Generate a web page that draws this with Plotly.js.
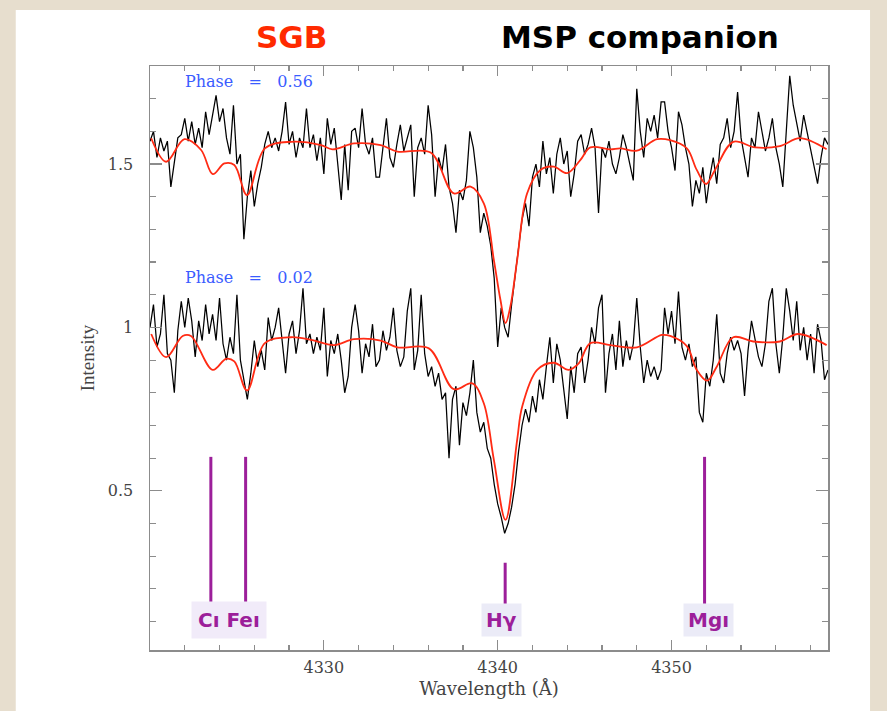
<!DOCTYPE html>
<html>
<head>
<meta charset="utf-8">
<script src="https://cdn.plot.ly/plotly-3.0.1.min.js"></script>
<style>
  html, body { margin: 0; padding: 0; background: #e7dece; }
  #chart { width: 887px; height: 711px; }
</style>
</head>
<body>
<div id="chart"></div>
<script>
// Wavelength grid of the observed spectra (Å)
const wavelength = [
4320.0,4320.2,4320.4,4320.6,4320.8,4321.0,4321.2,4321.4,4321.6,4321.8,
4322.0,4322.2,4322.4,4322.6,4322.8,4323.0,4323.2,4323.4,4323.6,4323.8,
4324.0,4324.2,4324.4,4324.6,4324.8,4325.0,4325.2,4325.4,4325.6,4325.8,
4326.0,4326.2,4326.4,4326.6,4326.8,4327.0,4327.2,4327.4,4327.6,4327.8,
4328.0,4328.2,4328.4,4328.6,4328.8,4329.0,4329.2,4329.4,4329.6,4329.8,
4330.0,4330.2,4330.4,4330.6,4330.8,4331.0,4331.2,4331.4,4331.6,4331.8,
4332.0,4332.2,4332.4,4332.6,4332.8,4333.0,4333.2,4333.4,4333.6,4333.8,
4334.0,4334.2,4334.4,4334.6,4334.8,4335.0,4335.2,4335.4,4335.6,4335.8,
4336.0,4336.2,4336.4,4336.6,4336.8,4337.0,4337.2,4337.4,4337.6,4337.8,
4338.0,4338.2,4338.4,4338.6,4338.8,4339.0,4339.2,4339.4,4339.6,4339.8,
4340.0,4340.2,4340.4,4340.6,4340.8,4341.0,4341.2,4341.4,4341.6,4341.8,
4342.0,4342.2,4342.4,4342.6,4342.8,4343.0,4343.2,4343.4,4343.6,4343.8,
4344.0,4344.2,4344.4,4344.6,4344.8,4345.0,4345.2,4345.4,4345.6,4345.8,
4346.0,4346.2,4346.4,4346.6,4346.8,4347.0,4347.2,4347.4,4347.6,4347.8,
4348.0,4348.2,4348.4,4348.6,4348.8,4349.0,4349.2,4349.4,4349.6,4349.8,
4350.0,4350.2,4350.4,4350.6,4350.8,4351.0,4351.2,4351.4,4351.6,4351.8,
4352.0,4352.2,4352.4,4352.6,4352.8,4353.0,4353.2,4353.4,4353.6,4353.8,
4354.0,4354.2,4354.4,4354.6,4354.8,4355.0,4355.2,4355.4,4355.6,4355.8,
4356.0,4356.2,4356.4,4356.6,4356.8,4357.0,4357.2,4357.4,4357.6,4357.8,
4358.0,4358.2,4358.4,4358.6,4358.8,4359.0
];

// Observed spectrum, phase 0.56 (offset upward)
const fluxPhase056 = [
1.57,1.60,1.52,1.58,1.54,1.57,1.43,1.50,1.58,1.59,
1.64,1.57,1.63,1.56,1.61,1.55,1.66,1.59,1.65,1.71,
1.63,1.67,1.58,1.53,1.68,1.50,1.53,1.27,1.40,1.48,
1.37,1.44,1.49,1.56,1.60,1.55,1.58,1.54,1.60,1.69,
1.56,1.60,1.52,1.58,1.55,1.67,1.55,1.59,1.51,1.58,
1.47,1.64,1.56,1.61,1.50,1.39,1.56,1.42,1.60,1.61,
1.55,1.67,1.56,1.53,1.58,1.46,
1.46,1.55,1.64,1.52,1.49,1.56,1.62,1.54,1.58,1.62,
1.40,1.55,1.58,1.53,1.68,1.59,1.40,1.52,1.48,1.56,
1.43,1.38,1.29,1.42,1.39,1.45,1.60,1.55,1.46,1.29,
1.35,1.31,1.25,1.15,
0.94,1.06,1.00,0.97,1.07,1.16,1.24,1.33,1.38,1.31,
1.46,1.50,1.43,1.57,1.47,1.52,1.41,1.53,1.58,1.50,
1.54,1.40,1.47,1.57,1.59,1.53,1.56,1.61,1.55,1.35,
1.55,1.52,1.57,
1.50,1.47,1.52,1.59,1.55,1.50,1.45,1.73,1.60,1.52,
1.64,1.60,1.65,1.58,1.69,1.69,1.60,1.55,1.48,1.66,
1.62,1.55,1.50,1.37,1.45,1.41,1.49,1.38,1.46,1.52,
1.44,1.56,1.58,1.64,1.55,1.60,1.72,1.58,1.52,1.46,
1.58,1.55,1.66,1.60,1.54,1.58,1.64,1.55,1.50,1.43,
1.60,1.77,1.68,1.62,1.57,1.65,1.60,1.55,1.50,1.44,
1.52,1.58,1.56
];

// Observed spectrum, phase 0.02
const fluxPhase002 = [
1.00,1.07,0.94,0.98,1.10,0.92,0.90,0.80,0.99,1.08,
1.00,1.09,1.02,0.91,1.02,0.96,1.07,0.98,1.04,0.96,
1.09,0.95,0.90,0.97,0.92,1.10,0.90,0.84,0.78,0.86,
0.96,0.88,0.93,0.87,1.03,0.96,1.00,1.06,0.95,0.86,
0.98,1.02,0.92,0.99,1.12,0.95,0.98,0.92,0.97,0.93,
1.06,0.85,0.96,0.92,0.98,0.90,0.80,0.85,1.00,1.07,
0.99,0.86,0.95,0.91,1.01,0.88,
0.90,0.99,0.93,0.97,1.06,0.93,0.88,0.91,1.05,1.12,
0.87,0.93,1.10,0.92,0.85,0.88,0.82,0.86,0.78,0.80,
0.60,0.78,0.82,0.64,0.77,0.73,0.80,0.90,0.74,0.68,
0.71,0.63,0.60,0.52,
0.46,0.42,0.37,0.40,0.45,0.52,0.62,0.70,0.75,0.71,
0.79,0.74,0.84,0.78,0.88,0.97,0.83,0.95,0.90,0.80,
0.72,0.88,0.80,0.92,0.94,0.83,0.90,1.00,0.95,1.06,
1.10,0.80,0.92,
0.98,0.87,1.02,0.88,0.96,0.90,0.95,1.09,0.94,0.83,
0.90,0.85,0.88,0.84,0.87,1.06,0.98,1.05,0.95,1.11,
0.94,0.90,0.95,0.88,0.91,0.74,0.71,0.86,0.82,0.90,
1.04,0.86,0.83,0.92,0.97,0.93,0.96,0.92,0.79,0.93,
1.02,0.96,0.91,0.88,0.95,1.08,1.12,0.95,0.86,0.97,
1.12,1.05,0.96,1.08,0.93,1.00,0.90,0.98,0.86,1.01,
0.96,0.84,0.87
];

// Synthetic SGB model spectra (red)
const modelWavelength056 = [4320.07,4320.93,4321.98,4322.94,4323.61,4324.28,4324.85,4325.58,4326.61,4328.11,
  4329.83,4330.50,4331.74,4333.27,4334.23,4336.14,4337.48,4338.44,4339.20,4339.78,4340.16,4340.45,4340.73,
  4341.12,4341.69,4342.46,4343.22,4343.99,4344.75,4345.33,4346.48,4347.05,4348.01,4349.16,4349.92,4350.88,
  4351.45,4351.99,4352.50,4353.55,4354.80,4356.23,4357.38,4358.92];
const model056 = [1.579,1.507,1.576,1.543,1.469,1.502,1.497,1.405,1.548,1.568,
  1.558,1.545,1.563,1.558,1.538,1.535,1.410,1.431,1.380,1.206,1.084,1.013,1.064,
  1.206,1.410,1.482,1.492,1.472,1.512,1.551,1.545,1.548,1.541,1.576,1.573,1.548,
  1.482,1.439,1.482,1.568,1.551,1.555,1.579,1.545];

const modelWavelength002 = [4320.07,4320.93,4321.88,4322.36,4323.61,4324.37,4324.85,4325.58,4326.61,4328.11,
  4329.25,4330.59,4331.74,4333.27,4334.23,4336.04,4337.48,4338.54,4339.20,4339.78,4340.45,4341.12,4341.41,
  4342.27,4343.22,4344.08,4344.66,4345.33,4346.48,4348.01,4349.44,4349.92,4350.88,4351.45,4352.05,4352.60,
  4353.55,4354.70,4356.23,4357.28,4358.92];
const model002 = [0.980,0.909,0.974,0.974,0.870,0.904,0.896,0.807,0.952,0.970,
  0.962,0.946,0.964,0.960,0.939,0.936,0.811,0.829,0.768,0.595,0.411,0.656,0.758,
  0.870,0.892,0.870,0.890,0.952,0.946,0.939,0.977,0.974,0.943,0.870,0.837,0.880,
  0.970,0.957,0.957,0.980,0.946];

// Line identification markers
const lineNames = ['C I', 'Fe I', 'Hγ', 'Mg I'];
const lineWavelength = [4323.5, 4325.5, 4340.43, 4351.9];
const lineTop = [0.604, 0.604, 0.28, 0.604];
const lineBottom = [0.151, 0.151, 0.151, 0.151];

const phaseLabels = ['Phase = 0.56', 'Phase = 0.02'];

const purple = '#9c1f9a';
const axisGray = '#8c8c8c';

const traces = [
  { x: wavelength, y: fluxPhase056, mode: 'lines', line: { color: '#000', width: 1.25 }, hoverinfo: 'skip' },
  { x: wavelength, y: fluxPhase002, mode: 'lines', line: { color: '#000', width: 1.25 }, hoverinfo: 'skip' },
  { x: modelWavelength056, y: model056, mode: 'lines', line: { color: '#ff2b14', width: 1.8, shape: 'spline', smoothing: 1 }, hoverinfo: 'skip' },
  { x: modelWavelength002, y: model002, mode: 'lines', line: { color: '#ff2b14', width: 1.8, shape: 'spline', smoothing: 1 }, hoverinfo: 'skip' }
];
for (let i = 0; i < lineWavelength.length; i++) {
  traces.push({ x: [lineWavelength[i], lineWavelength[i]], y: [lineBottom[i], lineTop[i]], mode: 'lines',
    line: { color: purple, width: 3 }, hoverinfo: 'skip' });
}

const nb = '\u00a0';
const sp = nb + nb + nb;
const annotations = [
  { xref: 'paper', yref: 'paper', x: 0.049, y: 0.973, xanchor: 'left', yanchor: 'middle', showarrow: false,
    text: phaseLabels[0].replace(/ /g, sp), font: { family: 'DejaVu Serif', size: 16, color: '#3a5cff' } },
  { xref: 'paper', yref: 'paper', x: 0.049, y: 0.637, xanchor: 'left', yanchor: 'middle', showarrow: false,
    text: phaseLabels[1].replace(/ /g, sp), font: { family: 'DejaVu Serif', size: 16, color: '#3a5cff' } },
  { xref: 'paper', yref: 'paper', x: 0.209, y: 1.05, xanchor: 'center', yanchor: 'middle', showarrow: false,
    text: '<b>SGB</b>', font: { family: 'DejaVu Sans', size: 31, color: '#ff2a00' } },
  { xref: 'paper', yref: 'paper', x: 0.723, y: 1.05, xanchor: 'center', yanchor: 'middle', showarrow: false,
    text: '<b>MSP companion</b>', font: { family: 'DejaVu Sans', size: 31, color: '#000' } },
  { xref: 'x', yref: 'y', x: 4324.55, y: 0.106, showarrow: false, bgcolor: '#f1ebf9', borderpad: 6,
    text: '<b>Cı Feı</b>', font: { family: 'DejaVu Sans', size: 20, color: purple } },
  { xref: 'x', yref: 'y', x: 4340.2, y: 0.106, showarrow: false, bgcolor: '#ebebf7', borderpad: 4,
    text: '<b>Hγ</b>', font: { family: 'DejaVu Sans', size: 20, color: purple } },
  { xref: 'x', yref: 'y', x: 4352.1, y: 0.106, showarrow: false, bgcolor: '#ebebf7', borderpad: 4,
    text: '<b>Mgı</b>', font: { family: 'DejaVu Sans', size: 20, color: purple } }
];

const layout = {
  width: 887, height: 711,
  margin: { l: 150, r: 59, t: 66, b: 61 },
  paper_bgcolor: '#e7dece',
  plot_bgcolor: '#ffffff',
  showlegend: false,
  shapes: [
    { type: 'rect', xref: 'paper', yref: 'paper', x0: -0.198, x1: 1.062, y0: -0.11, y1: 1.096,
      fillcolor: '#ffffff', line: { width: 0 }, layer: 'below' }
  ],
  annotations: annotations,
  xaxis: {
    range: [4320, 4359], tickvals: [4330, 4340, 4350], ticktext: ['4330', '4340', '4350'],
    ticks: 'inside', ticklen: 10, tickwidth: 1.2, tickcolor: axisGray,
    showline: true, linecolor: axisGray, linewidth: 1.5, mirror: 'ticks',
    showgrid: false, zeroline: false,
    minor: { ticks: 'inside', tick0: 4320, dtick: 2, ticklen: 5, tickwidth: 1.2, tickcolor: axisGray, showgrid: false },
    tickfont: { family: 'DejaVu Serif', size: 16, color: '#444' },
    ticklabelstandoff: 2,
    title: { text: 'Wavelength (Å)', font: { family: 'DejaVu Serif', size: 18, color: '#444' }, standoff: 6 }
  },
  yaxis: {
    range: [0.013, 1.80], tickvals: [0.5, 1, 1.5], ticktext: ['0.5', '1', '1.5'],
    ticks: 'inside', ticklen: 12, tickwidth: 1.2, tickcolor: axisGray,
    showline: true, linecolor: axisGray, linewidth: 1.5, mirror: 'ticks',
    showgrid: false, zeroline: false,
    minor: { ticks: 'inside', tick0: 0, dtick: 0.1, ticklen: 6, tickwidth: 1.2, tickcolor: axisGray, showgrid: false },
    tickfont: { family: 'DejaVu Serif', size: 16, color: '#444' },
    ticklabelstandoff: 12,
    title: { text: 'Intensity', font: { family: 'Liberation Serif', size: 19, color: '#444' }, standoff: 8 }
  }
};

Plotly.newPlot('chart', traces, layout, { staticPlot: true, displayModeBar: false });
</script>
</body>
</html>
